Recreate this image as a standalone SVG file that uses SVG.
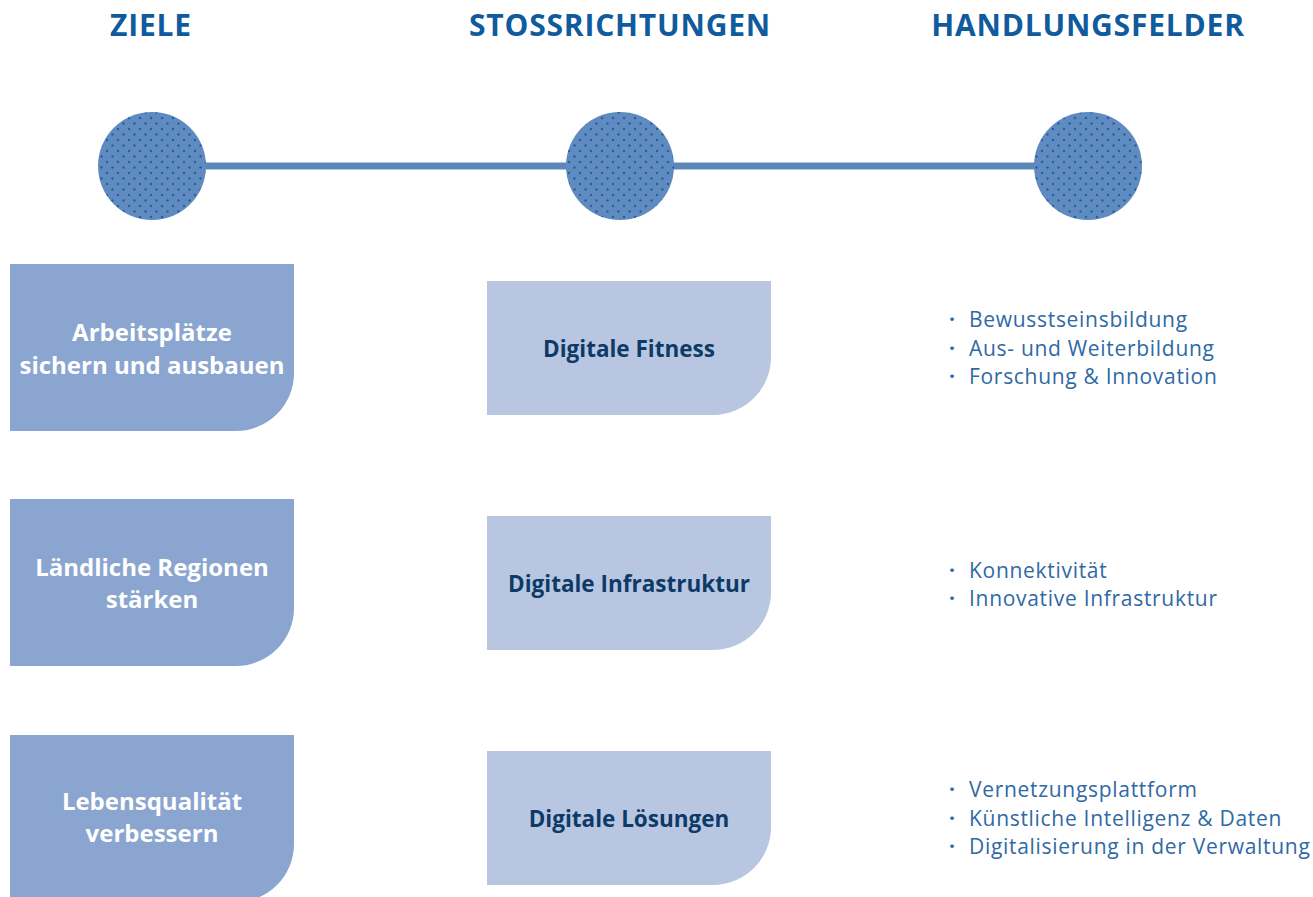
<svg xmlns="http://www.w3.org/2000/svg" width="1313" height="897" viewBox="0 0 1313 897">
<defs>
<pattern id="dots" width="11" height="11" patternUnits="userSpaceOnUse">
<rect width="11" height="11" fill="#5f8bc1"/>
<circle cx="2.5" cy="2.5" r="1.2" fill="#20609f"/>
<circle cx="8" cy="8" r="1.2" fill="#20609f"/>
</pattern>
</defs>
<style>
.hdr{font-family:"Open Sans","Liberation Sans",sans-serif;font-weight:700;font-size:30px;letter-spacing:0.8px;fill:#0f5b9e;text-anchor:middle}
.goal{fill:#8aa5cf}
.dir{fill:#b8c6e2}
.gt{font-family:"Open Sans","Liberation Sans",sans-serif;font-weight:700;font-size:24px;fill:#ffffff;text-anchor:middle}
.dt{font-family:"Open Sans","Liberation Sans",sans-serif;font-weight:700;font-size:22.5px;fill:#0d3a66;text-anchor:middle}
.lt{font-family:"Open Sans","Liberation Sans",sans-serif;font-size:21px;letter-spacing:0.7px;fill:#2f69a6}
.bl{font-family:"Open Sans","Liberation Sans",sans-serif;font-size:21px;font-weight:700;fill:#2f69a6}
.dot{fill:url(#dots)}
</style>
<rect width="1313" height="897" fill="#ffffff"/>
<g id="headers">
<text class="hdr" x="151" y="36">ZIELE</text>
<text class="hdr" x="620" y="36">STOSSRICHTUNGEN</text>
<text class="hdr" x="1088" y="36">HANDLUNGSFELDER</text>
</g>
<g id="connectors">
<line x1="152" y1="166" x2="1088" y2="166" stroke="#5b88bb" stroke-width="7"/>
</g>
<g id="circle1"><circle class="dot" cx="152" cy="166" r="54"/></g>
<g id="circle2"><circle class="dot" cx="620" cy="166" r="54"/></g>
<g id="circle3"><circle class="dot" cx="1088" cy="166" r="54"/></g>
<g id="goal1">
<path class="goal" d="M10 264 H294 V373 A58 58 0 0 1 236 431 H10 Z"/>
<text class="gt" x="152" y="341">Arbeitsplätze</text>
<text class="gt" x="152" y="374">sichern und ausbauen</text>
</g>
<g id="goal2">
<path class="goal" d="M10 499 H294 V608 A58 58 0 0 1 236 666 H10 Z"/>
<text class="gt" x="152" y="576">Ländliche Regionen</text>
<text class="gt" x="152" y="608">stärken</text>
</g>
<g id="goal3">
<path class="goal" d="M10 735 H294 V844 A58 58 0 0 1 236 902 H10 Z"/>
<text class="gt" x="152" y="810">Lebensqualität</text>
<text class="gt" x="152" y="842">verbessern</text>
</g>
<g id="dir1">
<path class="dir" d="M487 281 H771 V357 A58 58 0 0 1 713 415 H487 Z"/>
<text class="dt" x="629" y="357">Digitale Fitness</text>
</g>
<g id="dir2">
<path class="dir" d="M487 516 H771 V592 A58 58 0 0 1 713 650 H487 Z"/>
<text class="dt" x="629" y="592">Digitale Infrastruktur</text>
</g>
<g id="dir3">
<path class="dir" d="M487 751 H771 V827 A58 58 0 0 1 713 885 H487 Z"/>
<text class="dt" x="629" y="827">Digitale Lösungen</text>
</g>
<g id="field1">
<text class="bl" x="949" y="327">·</text><text class="lt" x="969" y="327">Bewusstseinsbildung</text>
<text class="bl" x="949" y="356">·</text><text class="lt" x="969" y="356">Aus- und Weiterbildung</text>
<text class="bl" x="949" y="384">·</text><text class="lt" x="969" y="384">Forschung &amp; Innovation</text>
</g>
<g id="field2">
<text class="bl" x="949" y="578">·</text><text class="lt" x="969" y="578">Konnektivität</text>
<text class="bl" x="949" y="606">·</text><text class="lt" x="969" y="606">Innovative Infrastruktur</text>
</g>
<g id="field3">
<text class="bl" x="949" y="797">·</text><text class="lt" x="969" y="797">Vernetzungsplattform</text>
<text class="bl" x="949" y="826">·</text><text class="lt" x="969" y="826">Künstliche Intelligenz &amp; Daten</text>
<text class="bl" x="949" y="854">·</text><text class="lt" x="969" y="854">Digitalisierung in der Verwaltung</text>
</g>
</svg>
